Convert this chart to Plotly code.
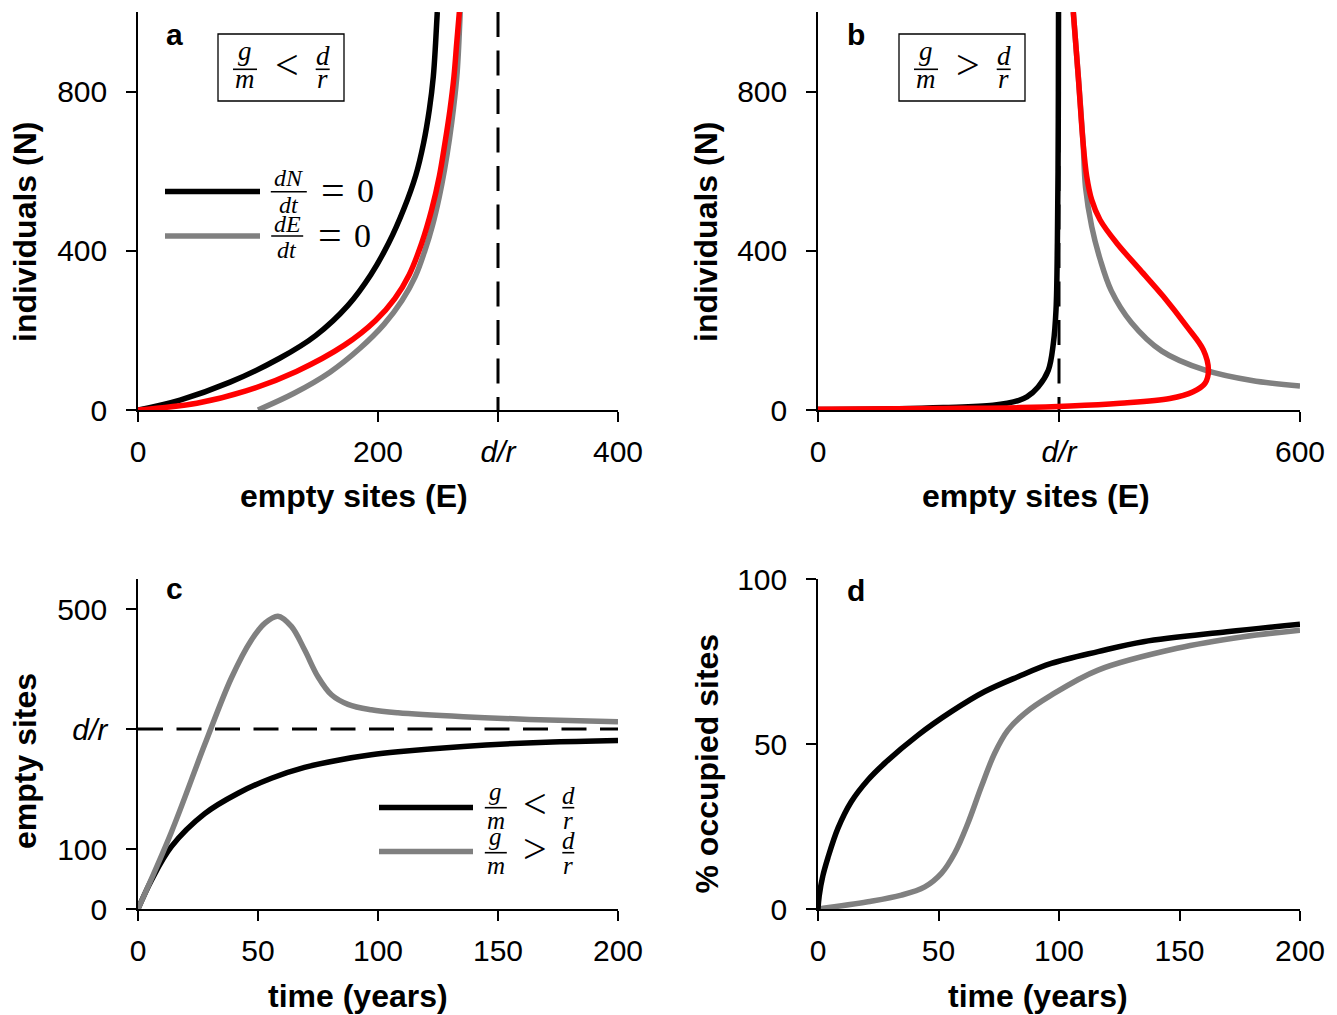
import plotly.graph_objects as go

W, H = 1337, 1015

# ---------------- data ----------------
DR = 300  # d/r

# panel a : nullclines and trajectory, g/m < d/r
a_black_E = [0, 35, 76.7, 118, 148, 175, 194, 209, 221.5, 231.5, 238, 242.8, 246.1, 248, 249.4]
a_black_N = [0, 25, 70, 130, 187, 263, 340, 420, 505, 590, 671, 755, 838, 922, 1000]
a_red_E = [0, 49, 90, 132, 172, 198, 214, 226, 236.4, 244.7, 251.1, 255.8, 260, 263.3, 265.6, 267.8]
a_red_N = [0, 17, 48, 97, 163, 225, 280, 340, 419, 503, 587, 671, 755, 838, 922, 1000]
a_gray_E = [100, 130, 160, 185, 205, 220, 231, 239, 245.5, 251, 255.5, 259.5, 263, 266, 268.5]
a_gray_N = [0, 42, 95, 155, 215, 275, 335, 400, 465, 535, 605, 680, 760, 850, 1000]

# panel b : g/m > d/r
b_black_E = [0, 100, 156, 218, 251, 260, 274, 286.7, 293, 296.3, 298, 298.8, 299.2, 299.4]
b_black_N = [1, 3, 6, 12, 25, 33, 58, 100, 168, 252, 420, 600, 800, 1000]
b_gray_E = [317.8, 324, 330, 333, 340.7, 351, 365, 390, 428, 482, 540, 600]
b_gray_N = [1000, 838, 671, 560, 461, 380, 300, 220, 148, 100, 74, 60]
b_red_E = [0, 150, 251.5, 313.7, 376, 438, 467, 481.7, 486, 479.7, 459, 430, 401, 372, 351, 340.7, 334.5, 330, 324, 317.8]
b_red_N = [2, 4, 6, 10, 17, 29, 46, 67, 100, 151, 210, 285, 352, 419, 478, 528, 587, 671, 838, 1000]

# panel c : empty sites vs time
c_black_t = [0, 5.6, 13.9, 27.8, 41.7, 55.6, 69.4, 83.3, 97.2, 108.3, 135.6, 170, 200]
c_black_E = [0, 48, 104, 159, 193, 218, 236, 248, 257, 262, 271, 278, 281]
c_gray_t = [0, 13.9, 27.8, 38.9, 47.2, 52.8, 58.3, 63.9, 69.4, 75, 80.6, 87.5, 97.2, 108.3, 135.6, 163, 200]
c_gray_E = [0, 128, 274, 385, 448, 476, 488, 471, 432, 387, 357, 341, 332, 327, 320.5, 316, 312]

# panel d : % occupied sites vs time
d_black_t = [0, 0.5, 2, 4.1, 8.3, 13.8, 20.7, 27.7, 41.5, 55.3, 69.2, 83, 96.8, 116.2, 135, 169.6, 200]
d_black_P = [0, 4, 10, 15.5, 24.5, 32.5, 39.1, 44.2, 52.7, 59.8, 65.9, 70.4, 74.4, 78, 81, 84, 86.3]
d_gray_t = [0, 20.7, 34.6, 44.3, 51.2, 56.7, 62.2, 67.8, 73.3, 78.8, 85.8, 96.8, 116.2, 149, 176.5, 200]
d_gray_P = [0, 2.2, 4.2, 6.7, 10.8, 16.9, 26, 37.1, 47.2, 54.2, 59.3, 64.8, 72.4, 79, 82.5, 84.5]

# ticks
a_xticks, a_xtext = [0, 200, DR, 400], ["0", "200", "<i>d/r</i>", "400"]
b_xticks, b_xtext = [0, DR, 600], ["0", "<i>d/r</i>", "600"]
ab_yticks = [0, 400, 800]
c_yticks, c_ytext = [0, 100, DR, 500], ["0", "100", "<i>d/r</i>", "500"]
t_ticks = [0, 50, 100, 150, 200]
d_yticks = [0, 50, 100]

# ---------------- figure ----------------
BLACK, GRAY, RED = "#000000", "#808080", "#ff0000"
LW = 5.5
SANS = "Liberation Sans, Arial, Helvetica, sans-serif"
SERIF = "Liberation Serif, Times New Roman, serif"
DASH = "25px,13.5px"

fig = go.Figure()

def line(x, y, color, ax, dash=None, width=LW, shape="spline"):
    fig.add_trace(go.Scatter(x=x, y=y, mode="lines", xaxis="x" + ax, yaxis="y" + ax,
                             line=dict(color=color, width=width, dash=dash, shape=shape, smoothing=1.0),
                             showlegend=False, hoverinfo="skip"))

# a
line([DR, DR], [1000, 0], BLACK, "", dash=DASH, width=3, shape="linear")
line(a_black_E, a_black_N, BLACK, "")
line(a_gray_E, a_gray_N, GRAY, "")
line(a_red_E, a_red_N, RED, "")
# b
line([DR, DR], [1000, 0], BLACK, "2", dash=DASH, width=3, shape="linear")
line(b_gray_E, b_gray_N, GRAY, "2")
line(b_black_E, b_black_N, BLACK, "2")
line(b_red_E, b_red_N, RED, "2")
# c
line([0, 200], [DR, DR], BLACK, "3", dash=DASH, width=3, shape="linear")
line(c_black_t, c_black_E, BLACK, "3")
line(c_gray_t, c_gray_E, GRAY, "3")
# d
line(d_gray_t, d_gray_P, GRAY, "4")
line(d_black_t, d_black_P, BLACK, "4")

def axis(domain, rng, tickvals, ticktext, anchor, standoff):
    d = dict(domain=domain, range=rng, tickvals=tickvals, showline=True, linecolor="black",
             linewidth=1.5, ticks="outside", ticklen=10, tickwidth=1.5, tickcolor="black",
             showgrid=False, zeroline=False, tickfont=dict(family=SANS, size=30, color="black"),
             anchor=anchor, fixedrange=True, automargin=False, ticklabelstandoff=standoff)
    if ticktext is not None:
        d["ticktext"] = ticktext
    return d

xl = [138 / W, 618 / W]
xr = [818 / W, 1300 / W]
yt = [1 - 410 / H, 1 - 12 / H]
yb = [1 - 909 / H, 1 - 579 / H]
XS, YS = 4, 13

fig.update_layout(
    template="none",
    width=W, height=H, margin=dict(l=0, r=0, t=0, b=0, pad=0), autosize=False,
    paper_bgcolor="white", plot_bgcolor="white",
    xaxis=axis(xl, [0, 400], a_xticks, a_xtext, "y", XS),
    yaxis=axis(yt, [0, 1000], ab_yticks, None, "x", YS),
    xaxis2=axis(xr, [0, 600], b_xticks, b_xtext, "y2", XS),
    yaxis2=axis(yt, [0, 1000], ab_yticks, None, "x2", YS),
    xaxis3=axis(xl, [0, 200], t_ticks, None, "y3", XS),
    yaxis3=axis(yb, [0, 550], c_yticks, c_ytext, "x3", YS),
    xaxis4=axis(xr, [0, 200], t_ticks, None, "y4", XS),
    yaxis4=axis(yb, [0, 100], d_yticks, None, "x4", YS),
)

annotations, shapes = [], []

def txt(x, y, s, size, family=SERIF, angle=0):
    annotations.append(dict(x=x / W, y=1 - y / H, xref="paper", yref="paper", text=s, showarrow=False,
                            font=dict(size=size, family=family, color="black"), xanchor="center",
                            yanchor="middle", textangle=angle, borderpad=0))

def hline(x0, x1, y, width, color):
    shapes.append(dict(type="line", xref="paper", yref="paper", x0=x0 / W, x1=x1 / W,
                       y0=1 - y / H, y1=1 - y / H, line=dict(color=color, width=width)))

def frac(xc, ybar, ynum, yden, num, den, barw, size):
    hline(xc - barw / 2, xc + barw / 2, ybar, 1.6, "black")
    txt(xc, ynum, num, size)
    txt(xc, yden, den, size)

# axis titles
TS = 32
txt(354, 496.5, "<b>empty sites (E)</b>", TS, SANS)
txt(1036, 496.5, "<b>empty sites (E)</b>", TS, SANS)
txt(358, 995.5, "<b>time (years)</b>", TS, SANS)
txt(1038, 995.5, "<b>time (years)</b>", TS, SANS)
txt(25, 232, "<b>individuals (N)</b>", TS, SANS, -90)
txt(706, 232, "<b>individuals (N)</b>", TS, SANS, -90)
txt(25, 761, "<b>empty sites</b>", TS, SANS, -90)
txt(706, 763.5, "<b>% occupied sites</b>", TS, SANS, -90)

# panel letters
txt(174.5, 35, "<b>a</b>", 30, SANS)
txt(856, 35, "<b>b</b>", 30, SANS)
txt(174.5, 588.5, "<b>c</b>", 30, SANS)
txt(856, 590, "<b>d</b>", 30, SANS)

# condition boxes in a and b
FB = 27
for dx, rel in [(0, "&lt;"), (681, "&gt;")]:
    shapes.append(dict(type="rect", xref="paper", yref="paper", x0=(218 + dx) / W, x1=(344 + dx) / W,
                       y0=1 - 101 / H, y1=1 - 34 / H, line=dict(color="black", width=1.3)))
    frac(245 + dx, 69.3, 51.3, 79, "<i>g</i>", "<i>m</i>", 24, FB)
    txt(286.7 + dx, 64.6, rel, 42)
    frac(322.7 + dx, 69.3, 55.8, 79, "<i>d</i>", "<i>r</i>", 14, FB)

# legend in a
FL = 24
hline(165, 260, 191.5, LW, BLACK)
hline(165, 260, 236, LW, GRAY)
frac(288.8, 191.7, 177.6, 205, "<i>dN</i>", "<i>dt</i>", 36, FL)
txt(333.3, 189.6, "=", 42)
txt(365, 190, "0", 34)
frac(287.2, 236, 223.6, 249.8, "<i>dE</i>", "<i>dt</i>", 32, FL)
txt(330, 234.6, "=", 42)
txt(362.3, 235, "0", 34)

# legend in c
FC = 25
hline(379, 473, 807.5, LW, BLACK)
hline(379, 473, 851.5, LW, GRAY)
frac(495.8, 807.7, 791.3, 820.2, "<i>g</i>", "<i>m</i>", 22, FC)
txt(535, 803.8, "&lt;", 42)
frac(568.3, 807.7, 795.5, 820.8, "<i>d</i>", "<i>r</i>", 12, FC)
frac(495.8, 852.7, 836.3, 865.2, "<i>g</i>", "<i>m</i>", 22, FC)
txt(535, 848.8, "&gt;", 42)
frac(568.3, 852.7, 840.5, 865.2, "<i>d</i>", "<i>r</i>", 12, FC)

fig.update_layout(annotations=annotations, shapes=shapes)
fig.write_html("out.html", config={"displayModeBar": False},
               post_script="document.body.style.margin='0px';document.body.style.padding='0px';")
